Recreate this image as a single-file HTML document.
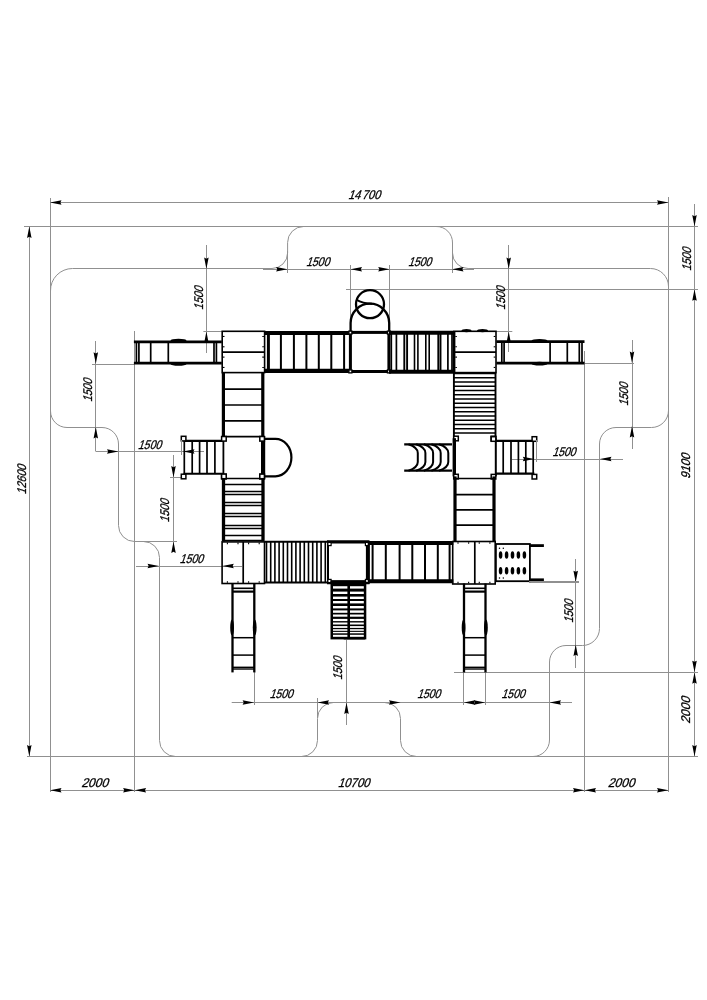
<!DOCTYPE html>
<html><head><meta charset="utf-8"><style>
html,body{margin:0;padding:0;background:#fff;}
body{width:707px;height:1000px;overflow:hidden;}
svg{display:block;filter:grayscale(1);}
.t{font-family:"Liberation Sans",sans-serif;font-size:12.6px;text-anchor:middle;fill:#000;stroke:#000;stroke-width:0.3px;}
</style></head><body>
<svg width="707" height="1000" viewBox="0 0 707 1000">
<rect width="707" height="1000" fill="#fff"/>
<line x1="50.5" y1="198" x2="50.5" y2="792" stroke="#909090" stroke-width="1"/>
<line x1="668.5" y1="197" x2="668.5" y2="792" stroke="#909090" stroke-width="1"/>
<line x1="50" y1="202.5" x2="668.5" y2="202.5" stroke="#909090" stroke-width="1"/>
<polygon points="50,202.5 61.5,200.25 60.35,202.5 61.5,204.75" fill="#000"/>
<polygon points="668.5,202.5 657,200.25 658.15,202.5 657,204.75" fill="#000"/>
<text x="0" y="4.6" transform="translate(365.5 194) skewX(-18) scale(0.88 1)" class="t">14<tspan dx="1.6">700</tspan></text>
<line x1="24" y1="226.5" x2="698" y2="226.5" stroke="#909090" stroke-width="1"/>
<line x1="29.5" y1="226.5" x2="29.5" y2="756.5" stroke="#909090" stroke-width="1"/>
<polygon points="29.3,226.5 27.05,238 29.3,236.85 31.55,238" fill="#000"/>
<polygon points="29.3,756.5 27.05,745 29.3,746.15 31.55,745" fill="#000"/>
<text x="0" y="4.6" transform="translate(21.6 478.3) rotate(-90) skewX(-18) scale(0.84 1)" class="t">12600</text>
<line x1="27" y1="756.5" x2="698" y2="756.5" stroke="#909090" stroke-width="1"/>
<line x1="50" y1="790.5" x2="668.5" y2="790.5" stroke="#909090" stroke-width="1"/>
<line x1="134.5" y1="331" x2="134.5" y2="792" stroke="#909090" stroke-width="1"/>
<line x1="584.5" y1="351" x2="584.5" y2="792" stroke="#909090" stroke-width="1"/>
<polygon points="50,790.2 61.5,787.95 60.35,790.2 61.5,792.45" fill="#000"/>
<polygon points="134.6,790.2 123.1,787.95 124.25,790.2 123.1,792.45" fill="#000"/>
<polygon points="134.6,790.2 146.1,787.95 144.95,790.2 146.1,792.45" fill="#000"/>
<polygon points="584.5,790.2 573,787.95 574.15,790.2 573,792.45" fill="#000"/>
<polygon points="584.5,790.2 596,787.95 594.85,790.2 596,792.45" fill="#000"/>
<polygon points="668.5,790.2 657,787.95 658.15,790.2 657,792.45" fill="#000"/>
<text x="0" y="4.6" transform="translate(96 782.8) skewX(-18) scale(0.95 1)" class="t">2000</text>
<text x="0" y="4.6" transform="translate(355 782.8) skewX(-18) scale(0.9 1)" class="t">10700</text>
<text x="0" y="4.6" transform="translate(622.5 782.8) skewX(-18) scale(0.95 1)" class="t">2000</text>
<line x1="694.5" y1="204" x2="694.5" y2="756.5" stroke="#909090" stroke-width="1"/>
<polygon points="694.5,226.5 692.25,215 694.5,216.15 696.75,215" fill="#000"/>
<polygon points="694.5,289.3 692.25,300.8 694.5,299.65 696.75,300.8" fill="#000"/>
<polygon points="694.5,672.2 692.25,660.7 694.5,661.85 696.75,660.7" fill="#000"/>
<polygon points="694.5,672.2 692.25,683.7 694.5,682.55 696.75,683.7" fill="#000"/>
<polygon points="694.5,756.5 692.25,745 694.5,746.15 696.75,745" fill="#000"/>
<text x="0" y="4.6" transform="translate(686.1 258) rotate(-90) skewX(-18) scale(0.83 1)" class="t">1500</text>
<text x="0" y="4.6" transform="translate(685.6 465) rotate(-90) skewX(-18) scale(0.9 1)" class="t">9100</text>
<text x="0" y="4.6" transform="translate(685.8 709) rotate(-90) skewX(-18) scale(0.95 1)" class="t">2000</text>
<line x1="346" y1="289.5" x2="698" y2="289.5" stroke="#909090" stroke-width="1"/>
<line x1="454" y1="672.5" x2="698" y2="672.5" stroke="#909090" stroke-width="1"/>
<path d="M50.5,291 A22,22 0 0 1 72.5,268.5 L272,268.5 A15.6,15.6 0 0 0 287.6,252.9 L287.6,242.5 A16,16 0 0 1 303.6,226.5 L436,226.5 A16,16 0 0 1 452.5,243 L452.5,252.9 A15.6,15.6 0 0 0 468.1,268.5 L650.5,268.5 A18,18 0 0 1 668.5,286.5 L668.5,410.5 A17,17 0 0 1 651.5,427.5 L616,427.5 A16.5,16.5 0 0 0 599.5,444 L599.5,628.5 A17,17 0 0 1 582.5,645.5 L566,645.5 A16.5,16.5 0 0 0 549.5,662 L549.5,740 A16.5,16.5 0 0 1 533,756.5 L416.5,756.5 A16,16 0 0 1 400.5,740.5 L400.5,718.5 A16,16 0 0 0 384.5,702.5 L333.5,702.5 A16,16 0 0 0 317.5,718.5 L317.5,740.5 A16,16 0 0 1 301.5,756.5 L175.5,756.5 A16,16 0 0 1 159.5,740.5 L159.5,557.5 A16,16 0 0 0 143.5,541.5 L134.5,541.5 A16,16 0 0 1 118.5,525.5 L118.5,444 A16.5,16.5 0 0 0 102,427.5 L67,427.5 A16.5,16.5 0 0 1 50.5,411 Z" stroke="#909090" stroke-width="1" fill="none"/>
<line x1="263" y1="269.5" x2="474" y2="269.5" stroke="#909090" stroke-width="1"/>
<line x1="287.5" y1="251" x2="287.5" y2="273" stroke="#909090" stroke-width="1"/>
<line x1="350.5" y1="265" x2="350.5" y2="331" stroke="#909090" stroke-width="1"/>
<line x1="389.5" y1="265" x2="389.5" y2="331" stroke="#909090" stroke-width="1"/>
<line x1="452.5" y1="251" x2="452.5" y2="273" stroke="#909090" stroke-width="1"/>
<polygon points="287.6,269.2 276.1,266.95 277.25,269.2 276.1,271.45" fill="#000"/>
<polygon points="350.5,269.2 362,266.95 360.85,269.2 362,271.45" fill="#000"/>
<polygon points="389.7,269.2 378.2,266.95 379.35,269.2 378.2,271.45" fill="#000"/>
<polygon points="452,269.2 463.5,266.95 462.35,269.2 463.5,271.45" fill="#000"/>
<text x="0" y="4.6" transform="translate(319.1 261.3) skewX(-18) scale(0.83 1)" class="t">1500</text>
<text x="0" y="4.6" transform="translate(421 261.3) skewX(-18) scale(0.83 1)" class="t">1500</text>
<line x1="206.5" y1="245" x2="206.5" y2="353" stroke="#909090" stroke-width="1"/>
<polygon points="206.4,269 204.15,257.5 206.4,258.65 208.65,257.5" fill="#000"/>
<polygon points="206.4,331.6 204.15,343.1 206.4,341.95 208.65,343.1" fill="#000"/>
<line x1="203.4" y1="331.5" x2="222" y2="331.5" stroke="#909090" stroke-width="1"/>
<text x="0" y="4.6" transform="translate(198 296.8) rotate(-90) skewX(-18) scale(0.83 1)" class="t">1500</text>
<line x1="508.5" y1="245" x2="508.5" y2="352" stroke="#909090" stroke-width="1"/>
<polygon points="508.7,269 506.45,257.5 508.7,258.65 510.95,257.5" fill="#000"/>
<polygon points="508.7,331.6 506.45,343.1 508.7,341.95 510.95,343.1" fill="#000"/>
<line x1="496" y1="331.5" x2="512.3" y2="331.5" stroke="#909090" stroke-width="1"/>
<text x="0" y="4.6" transform="translate(500.1 296.8) rotate(-90) skewX(-18) scale(0.83 1)" class="t">1500</text>
<line x1="95.5" y1="341" x2="95.5" y2="451.5" stroke="#909090" stroke-width="1"/>
<polygon points="95.8,363.8 93.55,352.3 95.8,353.45 98.05,352.3" fill="#000"/>
<polygon points="95.8,427 93.55,438.5 95.8,437.35 98.05,438.5" fill="#000"/>
<line x1="92" y1="364.5" x2="134" y2="364.5" stroke="#909090" stroke-width="1"/>
<text x="0" y="4.6" transform="translate(87.1 389) rotate(-90) skewX(-18) scale(0.83 1)" class="t">1500</text>
<line x1="96" y1="451.5" x2="204" y2="451.5" stroke="#909090" stroke-width="1"/>
<polygon points="118.5,451.5 107,449.25 108.15,451.5 107,453.75" fill="#000"/>
<polygon points="183,451.5 194.5,449.25 193.35,451.5 194.5,453.75" fill="#000"/>
<text x="0" y="4.6" transform="translate(150.9 444) skewX(-18) scale(0.83 1)" class="t">1500</text>
<line x1="173.5" y1="455" x2="173.5" y2="546" stroke="#909090" stroke-width="1"/>
<polygon points="173.5,477.5 171.25,466 173.5,467.15 175.75,466" fill="#000"/>
<polygon points="173.5,541.5 171.25,553 173.5,551.85 175.75,553" fill="#000"/>
<line x1="170" y1="477.5" x2="183" y2="477.5" stroke="#909090" stroke-width="1"/>
<line x1="134.5" y1="541.5" x2="177" y2="541.5" stroke="#909090" stroke-width="1"/>
<text x="0" y="4.6" transform="translate(164.8 509.5) rotate(-90) skewX(-18) scale(0.83 1)" class="t">1500</text>
<line x1="136" y1="566.5" x2="242" y2="566.5" stroke="#909090" stroke-width="1"/>
<polygon points="159,566 147.5,563.75 148.65,566 147.5,568.25" fill="#000"/>
<polygon points="222.3,566 233.8,563.75 232.65,566 233.8,568.25" fill="#000"/>
<text x="0" y="4.6" transform="translate(192.7 558.7) skewX(-18) scale(0.83 1)" class="t">1500</text>
<line x1="231.7" y1="702.5" x2="572" y2="702.5" stroke="#909090" stroke-width="1"/>
<line x1="254.5" y1="672" x2="254.5" y2="705" stroke="#909090" stroke-width="1"/>
<line x1="317.5" y1="698" x2="317.5" y2="718" stroke="#909090" stroke-width="1"/>
<line x1="463.5" y1="672" x2="463.5" y2="705" stroke="#909090" stroke-width="1"/>
<line x1="485.5" y1="672" x2="485.5" y2="705" stroke="#909090" stroke-width="1"/>
<line x1="549.5" y1="698" x2="549.5" y2="705" stroke="#909090" stroke-width="1"/>
<polygon points="254.1,702.5 242.6,700.25 243.75,702.5 242.6,704.75" fill="#000"/>
<polygon points="317.5,702.5 329,700.25 327.85,702.5 329,704.75" fill="#000"/>
<polygon points="400.5,702.5 389,700.25 390.15,702.5 389,704.75" fill="#000"/>
<polygon points="463.8,702.5 475.3,700.25 474.15,702.5 475.3,704.75" fill="#000"/>
<polygon points="485.3,702.5 473.8,700.25 474.95,702.5 473.8,704.75" fill="#000"/>
<polygon points="549.5,702.5 561,700.25 559.85,702.5 561,704.75" fill="#000"/>
<text x="0" y="4.6" transform="translate(282.5 693.45) skewX(-18) scale(0.83 1)" class="t">1500</text>
<text x="0" y="4.6" transform="translate(430 693.3) skewX(-18) scale(0.83 1)" class="t">1500</text>
<text x="0" y="4.6" transform="translate(514.4 693.3) skewX(-18) scale(0.83 1)" class="t">1500</text>
<line x1="346.5" y1="639.4" x2="346.5" y2="725" stroke="#909090" stroke-width="1"/>
<line x1="343.7" y1="639.5" x2="365" y2="639.5" stroke="#909090" stroke-width="1"/>
<polygon points="346.5,702.5 344.25,714 346.5,712.85 348.75,714" fill="#000"/>
<text x="0" y="4.6" transform="translate(337.7 667) rotate(-90) skewX(-18) scale(0.83 1)" class="t">1500</text>
<line x1="575.5" y1="559" x2="575.5" y2="668" stroke="#909090" stroke-width="1"/>
<polygon points="575.7,582.2 573.45,570.7 575.7,571.85 577.95,570.7" fill="#000"/>
<polygon points="575.7,644.5 573.45,656 575.7,654.85 577.95,656" fill="#000"/>
<line x1="529" y1="582.5" x2="579" y2="582.5" stroke="#909090" stroke-width="1"/>
<text x="0" y="4.6" transform="translate(568.1 610) rotate(-90) skewX(-18) scale(0.83 1)" class="t">1500</text>
<line x1="512" y1="459.5" x2="623" y2="459.5" stroke="#909090" stroke-width="1"/>
<polygon points="534.3,459 522.8,456.75 523.95,459 522.8,461.25" fill="#000"/>
<polygon points="600,459 611.5,456.75 610.35,459 611.5,461.25" fill="#000"/>
<text x="0" y="4.6" transform="translate(565.3 450.9) skewX(-18) scale(0.83 1)" class="t">1500</text>
<line x1="632.5" y1="340" x2="632.5" y2="449" stroke="#909090" stroke-width="1"/>
<polygon points="632,363 629.75,351.5 632,352.65 634.25,351.5" fill="#000"/>
<polygon points="632,426 629.75,437.5 632,436.35 634.25,437.5" fill="#000"/>
<line x1="584.5" y1="363.5" x2="634" y2="363.5" stroke="#909090" stroke-width="1"/>
<text x="0" y="4.6" transform="translate(623.5 393) rotate(-90) skewX(-18) scale(0.83 1)" class="t">1500</text>
<line x1="133.9" y1="341.8" x2="221.8" y2="341.8" stroke="#000" stroke-width="2.8"/>
<line x1="133.9" y1="363.1" x2="221.8" y2="363.1" stroke="#000" stroke-width="2.7"/>
<line x1="136.4" y1="341.8" x2="136.4" y2="363.1" stroke="#000" stroke-width="1.7"/>
<line x1="138.9" y1="341.8" x2="138.9" y2="363.1" stroke="#000" stroke-width="1.7"/>
<line x1="150.7" y1="341.8" x2="150.7" y2="363.1" stroke="#000" stroke-width="1.7"/>
<line x1="168.3" y1="341.8" x2="168.3" y2="363.1" stroke="#000" stroke-width="1.7"/>
<line x1="214" y1="341.8" x2="214" y2="363.1" stroke="#000" stroke-width="1.7"/>
<line x1="216.4" y1="341.8" x2="216.4" y2="363.1" stroke="#000" stroke-width="1.7"/>
<ellipse cx="178.5" cy="340.6" rx="8" ry="1.9" fill="#000"/>
<ellipse cx="178.5" cy="363.9" rx="8" ry="1.9" fill="#000"/>
<line x1="496.4" y1="341.7" x2="584.5" y2="341.7" stroke="#000" stroke-width="2.8"/>
<line x1="496.4" y1="363.1" x2="584.5" y2="363.1" stroke="#000" stroke-width="2.7"/>
<line x1="501.8" y1="341.5" x2="501.8" y2="363.1" stroke="#000" stroke-width="1.7"/>
<line x1="504.1" y1="341.5" x2="504.1" y2="363.1" stroke="#000" stroke-width="1.7"/>
<line x1="550.1" y1="341.5" x2="550.1" y2="363.1" stroke="#000" stroke-width="1.7"/>
<line x1="567.3" y1="341.5" x2="567.3" y2="363.1" stroke="#000" stroke-width="1.7"/>
<line x1="579.3" y1="341.5" x2="579.3" y2="363.1" stroke="#000" stroke-width="1.7"/>
<line x1="582" y1="341.5" x2="582" y2="363.1" stroke="#000" stroke-width="1.7"/>
<ellipse cx="539.5" cy="340.9" rx="8" ry="1.9" fill="#000"/>
<ellipse cx="539.5" cy="363.7" rx="8" ry="1.9" fill="#000"/>
<rect x="222.2" y="331.3" width="42.4" height="41.3" stroke="#000" stroke-width="1.6" fill="none"/>
<line x1="222.2" y1="352.2" x2="264.6" y2="352.2" stroke="#000" stroke-width="1.8"/>
<line x1="222.9" y1="336.46" x2="224.5" y2="336.46" stroke="#000" stroke-width="1.1"/>
<line x1="222.9" y1="346.79" x2="224.5" y2="346.79" stroke="#000" stroke-width="1.1"/>
<line x1="222.9" y1="357.11" x2="224.5" y2="357.11" stroke="#000" stroke-width="1.1"/>
<line x1="222.9" y1="367.44" x2="224.5" y2="367.44" stroke="#000" stroke-width="1.1"/>
<line x1="263.9" y1="336.46" x2="262.3" y2="336.46" stroke="#000" stroke-width="1.1"/>
<line x1="263.9" y1="346.79" x2="262.3" y2="346.79" stroke="#000" stroke-width="1.1"/>
<line x1="263.9" y1="357.11" x2="262.3" y2="357.11" stroke="#000" stroke-width="1.1"/>
<line x1="263.9" y1="367.44" x2="262.3" y2="367.44" stroke="#000" stroke-width="1.1"/>
<line x1="264.6" y1="333" x2="350.4" y2="333" stroke="#000" stroke-width="4.2"/>
<line x1="264.6" y1="370.9" x2="350.4" y2="370.9" stroke="#000" stroke-width="4.2"/>
<line x1="268.4" y1="331.3" x2="268.4" y2="373" stroke="#000" stroke-width="3"/>
<line x1="280.9" y1="333" x2="280.9" y2="371" stroke="#000" stroke-width="2"/>
<line x1="293.9" y1="333" x2="293.9" y2="371" stroke="#000" stroke-width="2"/>
<line x1="306.4" y1="333" x2="306.4" y2="371" stroke="#000" stroke-width="2"/>
<line x1="318.8" y1="333" x2="318.8" y2="371" stroke="#000" stroke-width="2"/>
<line x1="331.3" y1="333" x2="331.3" y2="371" stroke="#000" stroke-width="2"/>
<line x1="344.1" y1="333" x2="344.1" y2="371" stroke="#000" stroke-width="2"/>
<rect x="350.4" y="332.4" width="38.5" height="39.1" stroke="#000" stroke-width="3" fill="none"/>
<rect x="348.9" y="331.1" width="3" height="3" stroke="#000" stroke-width="1.3" fill="#fff"/>
<rect x="387.4" y="331.1" width="3" height="3" stroke="#000" stroke-width="1.3" fill="#fff"/>
<rect x="348.9" y="369.9" width="3" height="3" stroke="#000" stroke-width="1.3" fill="#fff"/>
<rect x="387.4" y="369.9" width="3" height="3" stroke="#000" stroke-width="1.3" fill="#fff"/>
<path d="M350.6,331 L350.6,323 A19.3,19.3 0 0 1 389.2,323 L389.2,331" stroke="#000" stroke-width="2.3" fill="none"/>
<circle cx="370" cy="304.2" r="14" stroke="#000" stroke-width="2.3" fill="none"/>
<path d="M356.3,299.6 C361,302.5 365,303.6 372,303.8" stroke="#000" stroke-width="2" fill="none"/>
<line x1="388.9" y1="332.7" x2="454.1" y2="332.7" stroke="#000" stroke-width="4"/>
<line x1="388.9" y1="371.8" x2="454.1" y2="371.8" stroke="#000" stroke-width="4"/>
<line x1="391.3" y1="332.7" x2="391.3" y2="371.8" stroke="#000" stroke-width="1.7"/>
<line x1="396.4" y1="332.7" x2="396.4" y2="371.8" stroke="#000" stroke-width="1.7"/>
<line x1="404.3" y1="332.7" x2="404.3" y2="371.8" stroke="#000" stroke-width="1.9"/>
<line x1="407.1" y1="332.7" x2="407.1" y2="371.8" stroke="#000" stroke-width="1.9"/>
<line x1="414.5" y1="332.7" x2="414.5" y2="371.8" stroke="#000" stroke-width="1.6"/>
<line x1="417.9" y1="332.7" x2="417.9" y2="371.8" stroke="#000" stroke-width="1.6"/>
<line x1="425.8" y1="332.7" x2="425.8" y2="371.8" stroke="#000" stroke-width="1.6"/>
<line x1="429.2" y1="332.7" x2="429.2" y2="371.8" stroke="#000" stroke-width="1.6"/>
<line x1="438.3" y1="332.7" x2="438.3" y2="371.8" stroke="#000" stroke-width="1.9"/>
<line x1="440.5" y1="332.7" x2="440.5" y2="371.8" stroke="#000" stroke-width="1.9"/>
<line x1="447.9" y1="332.7" x2="447.9" y2="371.8" stroke="#000" stroke-width="1.7"/>
<line x1="452" y1="332.7" x2="452" y2="371.8" stroke="#000" stroke-width="1.7"/>
<rect x="454.1" y="331.3" width="41.9" height="41.3" stroke="#000" stroke-width="1.6" fill="none"/>
<line x1="454.1" y1="331.3" x2="454.1" y2="372.6" stroke="#000" stroke-width="2.6"/>
<line x1="454.1" y1="352.2" x2="496" y2="352.2" stroke="#000" stroke-width="1.8"/>
<line x1="455.3" y1="336.46" x2="456.9" y2="336.46" stroke="#000" stroke-width="1.1"/>
<line x1="455.3" y1="346.79" x2="456.9" y2="346.79" stroke="#000" stroke-width="1.1"/>
<line x1="455.3" y1="357.11" x2="456.9" y2="357.11" stroke="#000" stroke-width="1.1"/>
<line x1="455.3" y1="367.44" x2="456.9" y2="367.44" stroke="#000" stroke-width="1.1"/>
<line x1="495.3" y1="336.46" x2="493.7" y2="336.46" stroke="#000" stroke-width="1.1"/>
<line x1="495.3" y1="346.79" x2="493.7" y2="346.79" stroke="#000" stroke-width="1.1"/>
<line x1="495.3" y1="357.11" x2="493.7" y2="357.11" stroke="#000" stroke-width="1.1"/>
<line x1="495.3" y1="367.44" x2="493.7" y2="367.44" stroke="#000" stroke-width="1.1"/>
<ellipse cx="466.5" cy="330.6" rx="5" ry="1.6" fill="#000"/>
<ellipse cx="482.5" cy="330.6" rx="5.5" ry="1.6" fill="#000"/>
<line x1="223.4" y1="372.6" x2="223.4" y2="438.5" stroke="#000" stroke-width="3.2"/>
<line x1="262.8" y1="372.6" x2="262.8" y2="438.5" stroke="#000" stroke-width="3.2"/>
<line x1="223.4" y1="389.1" x2="262.8" y2="389.1" stroke="#000" stroke-width="1.7"/>
<line x1="223.4" y1="405" x2="262.8" y2="405" stroke="#000" stroke-width="1.7"/>
<line x1="223.4" y1="420.9" x2="262.8" y2="420.9" stroke="#000" stroke-width="1.7"/>
<line x1="222.2" y1="436.6" x2="263" y2="436.6" stroke="#000" stroke-width="1.6"/>
<line x1="223.4" y1="438.5" x2="223.4" y2="476.5" stroke="#000" stroke-width="1.8"/>
<line x1="263.1" y1="436" x2="263.1" y2="479" stroke="#000" stroke-width="4.2"/>
<path d="M263,438.8 L275.4,438.8 A16,18.75 0 0 1 275.4,476.3 L263,476.3" stroke="#000" stroke-width="2.2" fill="none"/>
<line x1="183.5" y1="440.9" x2="223.4" y2="440.9" stroke="#000" stroke-width="2.1"/>
<line x1="183.5" y1="473.8" x2="223.4" y2="473.8" stroke="#000" stroke-width="2.1"/>
<line x1="184.3" y1="440.9" x2="184.3" y2="473.8" stroke="#000" stroke-width="1.7"/>
<line x1="192.2" y1="440.9" x2="192.2" y2="473.8" stroke="#000" stroke-width="1.7"/>
<line x1="199.6" y1="440.9" x2="199.6" y2="473.8" stroke="#000" stroke-width="1.7"/>
<line x1="207" y1="440.9" x2="207" y2="473.8" stroke="#000" stroke-width="1.7"/>
<line x1="214.9" y1="440.9" x2="214.9" y2="473.8" stroke="#000" stroke-width="1.7"/>
<rect x="181.3" y="436.3" width="4.6" height="4.6" stroke="#000" stroke-width="1.5" fill="#fff"/>
<rect x="181.3" y="474.2" width="4.6" height="4.6" stroke="#000" stroke-width="1.5" fill="#fff"/>
<rect x="221.6" y="436.5" width="4.6" height="4.6" stroke="#000" stroke-width="1.5" fill="#fff"/>
<rect x="221.6" y="474.2" width="4.6" height="4.6" stroke="#000" stroke-width="1.5" fill="#fff"/>
<rect x="259.8" y="436.5" width="4.6" height="4.6" stroke="#000" stroke-width="1.5" fill="#fff"/>
<rect x="259.8" y="474.3" width="4.6" height="4.6" stroke="#000" stroke-width="1.5" fill="#fff"/>
<line x1="181.5" y1="440" x2="181.5" y2="455" stroke="#909090" stroke-width="1"/>
<line x1="223.5" y1="476.5" x2="223.5" y2="541.5" stroke="#000" stroke-width="3.3"/>
<line x1="263" y1="476.5" x2="263" y2="541.5" stroke="#000" stroke-width="3.3"/>
<line x1="223.5" y1="478.5" x2="263" y2="478.5" stroke="#000" stroke-width="1.35"/>
<line x1="223.5" y1="484.5" x2="263" y2="484.5" stroke="#000" stroke-width="1.35"/>
<line x1="223.5" y1="491.5" x2="263" y2="491.5" stroke="#000" stroke-width="1.35"/>
<line x1="223.5" y1="494.5" x2="263" y2="494.5" stroke="#000" stroke-width="1.35"/>
<line x1="223.5" y1="502.5" x2="263" y2="502.5" stroke="#000" stroke-width="1.35"/>
<line x1="223.5" y1="505.5" x2="263" y2="505.5" stroke="#000" stroke-width="1.35"/>
<line x1="223.5" y1="513.5" x2="263" y2="513.5" stroke="#000" stroke-width="1.35"/>
<line x1="223.5" y1="516.5" x2="263" y2="516.5" stroke="#000" stroke-width="1.35"/>
<line x1="223.5" y1="525.5" x2="263" y2="525.5" stroke="#000" stroke-width="1.35"/>
<line x1="223.5" y1="528.5" x2="263" y2="528.5" stroke="#000" stroke-width="1.35"/>
<line x1="223.5" y1="535.5" x2="263" y2="535.5" stroke="#000" stroke-width="1.35"/>
<line x1="223.5" y1="540.3" x2="263" y2="540.3" stroke="#000" stroke-width="1.35"/>
<rect x="221.6" y="474.1" width="4.6" height="4.6" stroke="#000" stroke-width="1.5" fill="#fff"/>
<rect x="259.8" y="474.1" width="4.6" height="4.6" stroke="#000" stroke-width="1.5" fill="#fff"/>
<line x1="453.9" y1="372.6" x2="453.9" y2="438.5" stroke="#000" stroke-width="1.9"/>
<line x1="495.5" y1="372.6" x2="495.5" y2="438.5" stroke="#000" stroke-width="1.9"/>
<line x1="453.9" y1="373.5" x2="495.5" y2="373.5" stroke="#000" stroke-width="1.4"/>
<line x1="453.9" y1="377.75" x2="495.5" y2="377.75" stroke="#000" stroke-width="1.4"/>
<line x1="453.9" y1="382" x2="495.5" y2="382" stroke="#000" stroke-width="1.4"/>
<line x1="453.9" y1="386.25" x2="495.5" y2="386.25" stroke="#000" stroke-width="1.4"/>
<line x1="453.9" y1="390.5" x2="495.5" y2="390.5" stroke="#000" stroke-width="1.4"/>
<line x1="453.9" y1="394.75" x2="495.5" y2="394.75" stroke="#000" stroke-width="1.4"/>
<line x1="453.9" y1="399" x2="495.5" y2="399" stroke="#000" stroke-width="1.4"/>
<line x1="453.9" y1="403.25" x2="495.5" y2="403.25" stroke="#000" stroke-width="1.4"/>
<line x1="453.9" y1="407.5" x2="495.5" y2="407.5" stroke="#000" stroke-width="1.4"/>
<line x1="453.9" y1="411.75" x2="495.5" y2="411.75" stroke="#000" stroke-width="1.4"/>
<line x1="453.9" y1="416" x2="495.5" y2="416" stroke="#000" stroke-width="1.4"/>
<line x1="453.9" y1="420.25" x2="495.5" y2="420.25" stroke="#000" stroke-width="1.4"/>
<line x1="453.9" y1="424.5" x2="495.5" y2="424.5" stroke="#000" stroke-width="1.4"/>
<line x1="453.9" y1="428.75" x2="495.5" y2="428.75" stroke="#000" stroke-width="1.4"/>
<line x1="453.9" y1="433" x2="495.5" y2="433" stroke="#000" stroke-width="1.4"/>
<rect x="453.7" y="436.2" width="4.6" height="4.6" stroke="#000" stroke-width="1.5" fill="#fff"/>
<rect x="491.1" y="436.2" width="4.6" height="4.6" stroke="#000" stroke-width="1.5" fill="#fff"/>
<line x1="454.3" y1="438.2" x2="454.3" y2="476.4" stroke="#000" stroke-width="3.4"/>
<line x1="495.8" y1="438.2" x2="495.8" y2="476.4" stroke="#000" stroke-width="2"/>
<line x1="404.2" y1="444.3" x2="452" y2="444.3" stroke="#000" stroke-width="2.3"/>
<line x1="404.2" y1="470.7" x2="452" y2="470.7" stroke="#000" stroke-width="2.3"/>
<path d="M408.5,444.3 C413.5,446 417.8,449 417.8,453 L417.8,462 C417.8,466 413.5,469 408.5,470.7" stroke="#000" stroke-width="2" fill="none"/>
<path d="M416.1,444.3 C421.1,446 425.4,449 425.4,453 L425.4,462 C425.4,466 421.1,469 416.1,470.7" stroke="#000" stroke-width="2" fill="none"/>
<path d="M423.8,444.3 C428.8,446 433.1,449 433.1,453 L433.1,462 C433.1,466 428.8,469 423.8,470.7" stroke="#000" stroke-width="2" fill="none"/>
<path d="M431.4,444.3 C436.4,446 440.7,449 440.7,453 L440.7,462 C440.7,466 436.4,469 431.4,470.7" stroke="#000" stroke-width="2" fill="none"/>
<path d="M439,444.3 C444,446 448.3,449 448.3,453 L448.3,462 C448.3,466 444,469 439,470.7" stroke="#000" stroke-width="2" fill="none"/>
<line x1="495.8" y1="440.9" x2="534.4" y2="440.9" stroke="#000" stroke-width="2.1"/>
<line x1="495.8" y1="473.6" x2="534.4" y2="473.6" stroke="#000" stroke-width="2.1"/>
<line x1="503.2" y1="440.9" x2="503.2" y2="473.6" stroke="#000" stroke-width="1.7"/>
<line x1="511" y1="440.9" x2="511" y2="473.6" stroke="#000" stroke-width="1.7"/>
<line x1="518.4" y1="440.9" x2="518.4" y2="473.6" stroke="#000" stroke-width="1.7"/>
<line x1="525.8" y1="440.9" x2="525.8" y2="473.6" stroke="#000" stroke-width="1.7"/>
<line x1="533.2" y1="440.9" x2="533.2" y2="473.6" stroke="#000" stroke-width="1.7"/>
<rect x="491.2" y="436.7" width="4.6" height="4.6" stroke="#000" stroke-width="1.5" fill="#fff"/>
<rect x="491.2" y="474.4" width="4.6" height="4.6" stroke="#000" stroke-width="1.5" fill="#fff"/>
<rect x="532.1" y="436.7" width="4.6" height="4.6" stroke="#000" stroke-width="1.5" fill="#fff"/>
<rect x="532.1" y="474.4" width="4.6" height="4.6" stroke="#000" stroke-width="1.5" fill="#fff"/>
<rect x="453.7" y="474.3" width="4.6" height="4.6" stroke="#000" stroke-width="1.5" fill="#fff"/>
<line x1="536.5" y1="440" x2="536.5" y2="462" stroke="#909090" stroke-width="1"/>
<line x1="455" y1="476.4" x2="455" y2="541" stroke="#000" stroke-width="3.2"/>
<line x1="494" y1="476.4" x2="494" y2="541" stroke="#000" stroke-width="3.2"/>
<line x1="455" y1="478.5" x2="494" y2="478.5" stroke="#000" stroke-width="1.7"/>
<line x1="455" y1="494.6" x2="494" y2="494.6" stroke="#000" stroke-width="1.7"/>
<line x1="455" y1="509.9" x2="494" y2="509.9" stroke="#000" stroke-width="1.7"/>
<line x1="455" y1="525.2" x2="494" y2="525.2" stroke="#000" stroke-width="1.7"/>
<rect x="222.1" y="541.9" width="42.4" height="41.6" stroke="#000" stroke-width="1.6" fill="none"/>
<line x1="243.2" y1="541.9" x2="243.2" y2="583.5" stroke="#000" stroke-width="1.7"/>
<line x1="227.4" y1="542.6" x2="227.4" y2="544.2" stroke="#000" stroke-width="1.1"/>
<line x1="238" y1="542.6" x2="238" y2="544.2" stroke="#000" stroke-width="1.1"/>
<line x1="248.6" y1="542.6" x2="248.6" y2="544.2" stroke="#000" stroke-width="1.1"/>
<line x1="259.2" y1="542.6" x2="259.2" y2="544.2" stroke="#000" stroke-width="1.1"/>
<line x1="227.4" y1="582.8" x2="227.4" y2="581.2" stroke="#000" stroke-width="1.1"/>
<line x1="238" y1="582.8" x2="238" y2="581.2" stroke="#000" stroke-width="1.1"/>
<line x1="248.6" y1="582.8" x2="248.6" y2="581.2" stroke="#000" stroke-width="1.1"/>
<line x1="259.2" y1="582.8" x2="259.2" y2="581.2" stroke="#000" stroke-width="1.1"/>
<line x1="264.5" y1="541.8" x2="328.5" y2="541.8" stroke="#000" stroke-width="2"/>
<line x1="264.5" y1="582.6" x2="328.5" y2="582.6" stroke="#000" stroke-width="2"/>
<line x1="266.5" y1="541.8" x2="266.5" y2="582.6" stroke="#000" stroke-width="1.6"/>
<line x1="270.7" y1="541.8" x2="270.7" y2="582.6" stroke="#000" stroke-width="1.6"/>
<line x1="274.9" y1="541.8" x2="274.9" y2="582.6" stroke="#000" stroke-width="1.6"/>
<line x1="279.1" y1="541.8" x2="279.1" y2="582.6" stroke="#000" stroke-width="1.6"/>
<line x1="283.3" y1="541.8" x2="283.3" y2="582.6" stroke="#000" stroke-width="1.6"/>
<line x1="287.5" y1="541.8" x2="287.5" y2="582.6" stroke="#000" stroke-width="1.6"/>
<line x1="291.7" y1="541.8" x2="291.7" y2="582.6" stroke="#000" stroke-width="1.6"/>
<line x1="295.9" y1="541.8" x2="295.9" y2="582.6" stroke="#000" stroke-width="1.6"/>
<line x1="300.1" y1="541.8" x2="300.1" y2="582.6" stroke="#000" stroke-width="1.6"/>
<line x1="304.3" y1="541.8" x2="304.3" y2="582.6" stroke="#000" stroke-width="1.6"/>
<line x1="308.5" y1="541.8" x2="308.5" y2="582.6" stroke="#000" stroke-width="1.6"/>
<line x1="312.7" y1="541.8" x2="312.7" y2="582.6" stroke="#000" stroke-width="1.6"/>
<line x1="316.9" y1="541.8" x2="316.9" y2="582.6" stroke="#000" stroke-width="1.6"/>
<line x1="321.1" y1="541.8" x2="321.1" y2="582.6" stroke="#000" stroke-width="1.6"/>
<line x1="325.3" y1="541.8" x2="325.3" y2="582.6" stroke="#000" stroke-width="1.6"/>
<line x1="328" y1="541" x2="328" y2="583" stroke="#000" stroke-width="2"/>
<line x1="367.9" y1="541" x2="367.9" y2="583.5" stroke="#000" stroke-width="4"/>
<line x1="327" y1="541.8" x2="369.5" y2="541.8" stroke="#000" stroke-width="3.2"/>
<line x1="327" y1="582.2" x2="369.5" y2="582.2" stroke="#000" stroke-width="4"/>
<rect x="327.9" y="542.4" width="3.2" height="3.2" stroke="#000" stroke-width="1.2" fill="#fff"/>
<rect x="365.4" y="542.4" width="3.2" height="3.2" stroke="#000" stroke-width="1.2" fill="#fff"/>
<rect x="327.9" y="579.4" width="3.2" height="3.2" stroke="#000" stroke-width="1.2" fill="#fff"/>
<rect x="365.4" y="579.4" width="3.2" height="3.2" stroke="#000" stroke-width="1.2" fill="#fff"/>
<line x1="367.7" y1="542.9" x2="453.3" y2="542.9" stroke="#000" stroke-width="4"/>
<line x1="367.7" y1="581.3" x2="453.3" y2="581.3" stroke="#000" stroke-width="4"/>
<line x1="372.6" y1="542.9" x2="372.6" y2="581.3" stroke="#000" stroke-width="2"/>
<line x1="385.8" y1="542.9" x2="385.8" y2="581.3" stroke="#000" stroke-width="2"/>
<line x1="399.6" y1="542.9" x2="399.6" y2="581.3" stroke="#000" stroke-width="2"/>
<line x1="412.3" y1="542.9" x2="412.3" y2="581.3" stroke="#000" stroke-width="2"/>
<line x1="425" y1="542.9" x2="425" y2="581.3" stroke="#000" stroke-width="2"/>
<line x1="437.8" y1="542.9" x2="437.8" y2="581.3" stroke="#000" stroke-width="2"/>
<line x1="449.6" y1="542.9" x2="449.6" y2="581.3" stroke="#000" stroke-width="2"/>
<rect x="452.7" y="541.5" width="42.5" height="42.5" stroke="#000" stroke-width="1.6" fill="none"/>
<line x1="474.8" y1="541.5" x2="474.8" y2="584" stroke="#000" stroke-width="1.7"/>
<line x1="458.01" y1="542.2" x2="458.01" y2="543.8" stroke="#000" stroke-width="1.1"/>
<line x1="468.64" y1="542.2" x2="468.64" y2="543.8" stroke="#000" stroke-width="1.1"/>
<line x1="479.26" y1="542.2" x2="479.26" y2="543.8" stroke="#000" stroke-width="1.1"/>
<line x1="489.89" y1="542.2" x2="489.89" y2="543.8" stroke="#000" stroke-width="1.1"/>
<line x1="458.01" y1="583.3" x2="458.01" y2="581.7" stroke="#000" stroke-width="1.1"/>
<line x1="468.64" y1="583.3" x2="468.64" y2="581.7" stroke="#000" stroke-width="1.1"/>
<line x1="479.26" y1="583.3" x2="479.26" y2="581.7" stroke="#000" stroke-width="1.1"/>
<line x1="489.89" y1="583.3" x2="489.89" y2="581.7" stroke="#000" stroke-width="1.1"/>
<rect x="495.9" y="544" width="34" height="37.2" stroke="#000" stroke-width="1.8" fill="none"/>
<circle cx="499.5" cy="548.2" r="0.75" fill="#000"/>
<circle cx="503.3" cy="548.2" r="0.75" fill="#000"/>
<circle cx="499.5" cy="578" r="0.75" fill="#000"/>
<circle cx="503.3" cy="578" r="0.75" fill="#000"/>
<ellipse cx="500.6" cy="555" rx="1.8" ry="3.8" fill="#000"/>
<ellipse cx="506.6" cy="555" rx="1.8" ry="3.8" fill="#000"/>
<ellipse cx="512.5" cy="555" rx="1.8" ry="3.8" fill="#000"/>
<ellipse cx="518.4" cy="555" rx="1.8" ry="3.8" fill="#000"/>
<ellipse cx="524.4" cy="555" rx="1.8" ry="3.8" fill="#000"/>
<ellipse cx="500.6" cy="570.7" rx="1.8" ry="3.8" fill="#000"/>
<ellipse cx="506.6" cy="570.7" rx="1.8" ry="3.8" fill="#000"/>
<ellipse cx="512.5" cy="570.7" rx="1.8" ry="3.8" fill="#000"/>
<ellipse cx="518.4" cy="570.7" rx="1.8" ry="3.8" fill="#000"/>
<ellipse cx="524.4" cy="570.7" rx="1.8" ry="3.8" fill="#000"/>
<line x1="529.1" y1="545.6" x2="543.9" y2="545.6" stroke="#000" stroke-width="2.8"/>
<line x1="529.1" y1="579.8" x2="543.9" y2="579.8" stroke="#000" stroke-width="2.8"/>
<line x1="529.1" y1="581.5" x2="579" y2="581.5" stroke="#909090" stroke-width="1"/>
<line x1="232.5" y1="583.5" x2="232.5" y2="672.4" stroke="#000" stroke-width="2.3"/>
<line x1="254.3" y1="583.5" x2="254.3" y2="672.4" stroke="#000" stroke-width="2.3"/>
<line x1="232.5" y1="588.3" x2="254.3" y2="588.3" stroke="#000" stroke-width="1.6"/>
<line x1="232.5" y1="591.6" x2="254.3" y2="591.6" stroke="#000" stroke-width="2.2"/>
<line x1="232.5" y1="637.7" x2="254.3" y2="637.7" stroke="#000" stroke-width="1.5"/>
<line x1="232.5" y1="655.1" x2="254.3" y2="655.1" stroke="#000" stroke-width="1.5"/>
<line x1="232.5" y1="667.3" x2="254.3" y2="667.3" stroke="#000" stroke-width="1.4"/>
<line x1="232.5" y1="669" x2="254.3" y2="669" stroke="#000" stroke-width="1.4"/>
<ellipse cx="232.1" cy="627.5" rx="1.9" ry="8" fill="#000"/>
<ellipse cx="254.7" cy="627.5" rx="1.9" ry="8" fill="#000"/>
<line x1="464" y1="583.5" x2="464" y2="672.4" stroke="#000" stroke-width="2.3"/>
<line x1="485.5" y1="583.5" x2="485.5" y2="672.4" stroke="#000" stroke-width="2.3"/>
<line x1="464" y1="588.3" x2="485.5" y2="588.3" stroke="#000" stroke-width="1.6"/>
<line x1="464" y1="591.6" x2="485.5" y2="591.6" stroke="#000" stroke-width="2.2"/>
<line x1="464" y1="637.7" x2="485.5" y2="637.7" stroke="#000" stroke-width="1.5"/>
<line x1="464" y1="655.1" x2="485.5" y2="655.1" stroke="#000" stroke-width="1.5"/>
<line x1="464" y1="667.3" x2="485.5" y2="667.3" stroke="#000" stroke-width="1.4"/>
<line x1="464" y1="669" x2="485.5" y2="669" stroke="#000" stroke-width="1.4"/>
<ellipse cx="463.6" cy="627.5" rx="1.9" ry="8" fill="#000"/>
<ellipse cx="485.9" cy="627.5" rx="1.9" ry="8" fill="#000"/>
<rect x="330.5" y="580.5" width="35.8" height="58.9" fill="#000"/>
<rect x="333" y="586.2" width="14.4" height="2.4" fill="#fff"/>
<rect x="350" y="586.2" width="13.8" height="2.4" fill="#fff"/>
<rect x="333" y="591.6" width="14.4" height="2.4" fill="#fff"/>
<rect x="350" y="591.6" width="13.8" height="2.4" fill="#fff"/>
<rect x="333" y="596.6" width="14.4" height="2.4" fill="#fff"/>
<rect x="350" y="596.6" width="13.8" height="2.4" fill="#fff"/>
<rect x="333" y="601" width="14.4" height="2.4" fill="#fff"/>
<rect x="350" y="601" width="13.8" height="2.4" fill="#fff"/>
<rect x="333" y="606" width="14.4" height="2.4" fill="#fff"/>
<rect x="350" y="606" width="13.8" height="2.4" fill="#fff"/>
<rect x="333" y="610.4" width="14.4" height="2.4" fill="#fff"/>
<rect x="350" y="610.4" width="13.8" height="2.4" fill="#fff"/>
<rect x="333" y="614.5" width="14.4" height="2.2" fill="#fff"/>
<rect x="350" y="614.5" width="13.8" height="2.2" fill="#fff"/>
<rect x="333" y="618.9" width="14.4" height="2.2" fill="#fff"/>
<rect x="350" y="618.9" width="13.8" height="2.2" fill="#fff"/>
<rect x="333" y="622.5" width="14.4" height="2" fill="#fff"/>
<rect x="350" y="622.5" width="13.8" height="2" fill="#fff"/>
<rect x="333" y="626.1" width="14.4" height="1.8" fill="#fff"/>
<rect x="350" y="626.1" width="13.8" height="1.8" fill="#fff"/>
<rect x="333" y="629.2" width="14.4" height="1.6" fill="#fff"/>
<rect x="350" y="629.2" width="13.8" height="1.6" fill="#fff"/>
<rect x="333" y="631.9" width="14.4" height="1.4" fill="#fff"/>
<rect x="350" y="631.9" width="13.8" height="1.4" fill="#fff"/>
<rect x="333" y="634.8" width="14.4" height="2" fill="#fff"/>
<rect x="350" y="634.8" width="13.8" height="2" fill="#fff"/>
</svg>
</body></html>
